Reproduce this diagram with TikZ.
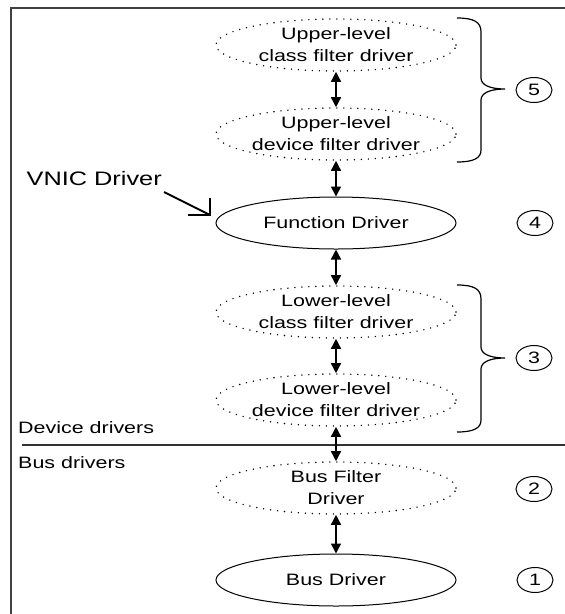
\documentclass[tikz,border=0pt]{standalone}
\usepackage{fontspec}
\setmainfont{Liberation Sans}[FakeStretch=1.3]
\usetikzlibrary{arrows.meta,shapes.geometric}
\begin{document}
\begin{tikzpicture}[x=1pt,y=-1pt,
  lbl/.style={font=\fontsize{16.5}{22}\selectfont, text=black},
  drv/.style={ellipse, minimum width=240pt, minimum height=52pt, inner sep=0pt, align=center, lbl},
  solidell/.style={drv, draw, line width=1pt},
  dotell/.style={drv, draw, line width=1.6pt, line cap=round, dash pattern=on 0pt off 7pt},
  num/.style={ellipse, draw, line width=1pt, minimum width=36pt, minimum height=25pt, inner sep=0pt, lbl},
  link/.style={{Triangle[length=10pt,width=10pt]}-{Triangle[length=10pt,width=10pt]}, line width=1.5pt},
  bracestyle/.style={line width=1.2pt},
  framestyle/.style={line width=2pt, black!75}]
\useasboundingbox (0,0) rectangle (565,614);
% frame
\draw[framestyle] (11,614) -- (11,7.5) -- (565,7.5);
% separator
\draw[line width=1.3pt, black!80] (22,445) -- (565,445);
% drivers
\node[dotell] (ucf) at (336,45) {Upper-level\\class filter driver};
\node[dotell] (udf) at (336,134) {Upper-level\\device filter driver};
\node[solidell] (fd) at (336,223) {Function Driver};
\node[dotell] (lcf) at (336,312) {Lower-level\\class filter driver};
\node[dotell] (ldf) at (336,400) {Lower-level\\device filter driver};
\node[dotell] (bfd) at (336,488) {Bus Filter\\Driver};
\node[solidell] (bd) at (336,580) {Bus Driver};
% links
\draw[link] (ucf) -- (udf);
\draw[link] (udf) -- (fd);
\draw[link] (fd) -- (lcf);
\draw[link] (lcf) -- (ldf);
\draw[link] (ldf) -- (bfd);
\draw[link] (bfd) -- (bd);
% numbers
\node[num] (n5) at (534,90) {5};
\node[num] (n4) at (535,223) {4};
\node[num] (n3) at (534,358) {3};
\node[num] (n2) at (534,489) {2};
\node[num] (n1) at (535,580) {1};
% braces
\draw[bracestyle] (457,18) .. controls (474,18) and (481,22) .. (481,32) -- (481,78)
  .. controls (481,85) and (490,89) .. (505,89)
  .. controls (490,89) and (481,93) .. (481,100) -- (481,150)
  .. controls (481,158) and (474,162) .. (457,162);
\draw[bracestyle] (457,285) .. controls (474,285) and (481,289) .. (481,299) -- (481,347)
  .. controls (481,354) and (490,358) .. (505,358)
  .. controls (490,358) and (481,362) .. (481,369) -- (481,420)
  .. controls (481,428) and (474,432) .. (457,432);
% side labels
\node[lbl, anchor=base west, inner sep=0pt] (devd) at (18,433) {Device drivers};
\node[lbl, anchor=base west, inner sep=0pt] (busd) at (18,468) {Bus drivers};
\node[lbl, font=\fontsize{19.5}{24}\selectfont, anchor=base east, inner sep=0pt] (vnic) at (162,185) {VNIC Driver};
% VNIC arrow
\coordinate (vstart) at (164,192);
\coordinate (vtip) at (210,215);
\draw[line width=2pt] (vstart) -- (vtip);
\draw[line width=2pt] (210,198) -- (vtip) -- (188,215);
\end{tikzpicture}
\end{document}
